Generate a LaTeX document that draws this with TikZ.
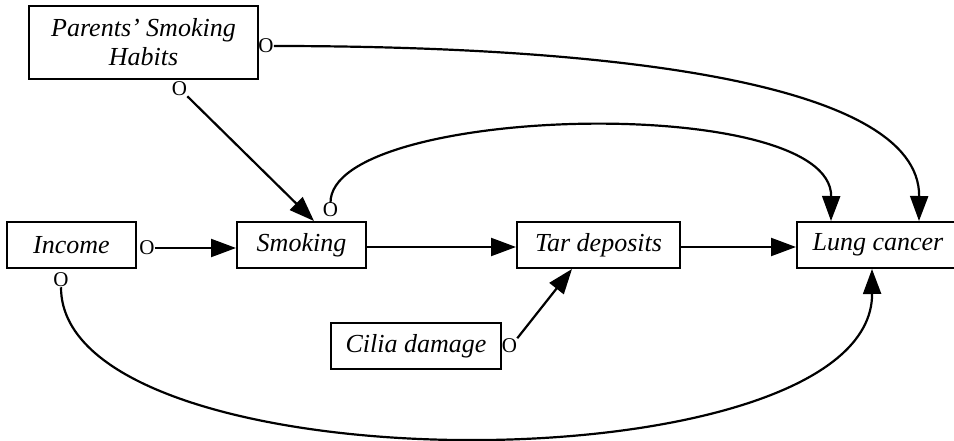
\documentclass[tikz,border=0pt]{standalone}
\usepackage{fontspec}
\setmainfont{Liberation Serif}
\usetikzlibrary{arrows.meta,calc}
\begin{document}
\begin{tikzpicture}[x=1pt,y=-1pt,
  varbox/.style={draw,line width=2pt,inner sep=0pt,minimum height=46pt,align=center,
    font=\fontsize{26}{29}\selectfont\itshape},
  omark/.style={inner sep=0pt,font=\fontsize{21}{21}\selectfont},
  conn/.style={line width=2.2pt,-{Triangle[length=25pt,width=18pt]}}]
\useasboundingbox (0,0) rectangle (954,441);
\node[varbox,minimum width=229pt,minimum height=73pt] (par) at (143.5,42.5) {Parents' Smoking\\Habits};
\node[varbox,minimum width=129pt] (inc) at (71.5,245) {Income};
\node[varbox,minimum width=129pt] (smk) at (301.5,245) {Smoking};
\node[varbox,minimum width=163pt] (tar) at (598.5,245) {Tar deposits};
\node[varbox,minimum width=162pt] (lung) at (878,245) {Lung cancer};
\node[varbox,minimum width=170pt] (cil) at (416,346) {Cilia damage};
\node[omark] (oPR) at (266,46) {O};
\node[omark] (oPB) at (179.5,89) {O};
\node[omark] (oSm) at (330.5,210) {O};
\node[omark] (oIR) at (147,248) {O};
\node[omark] (oIB) at (61,280) {O};
\node[omark] (oCil) at (509.5,345.5) {O};
\draw[conn] (oIR.east) -- (smk.west |- oIR.east);
\draw[conn] ($(smk.east)+(0,2)$) -- ($(tar.west)+(0,2)$);
\draw[conn] ($(tar.east)+(0,2)$) -- ($(lung.west)+(0,2)$);
\draw[conn] (oPB.south east) -- ($(smk.north west)+(78,0)$);
\draw[conn] (oCil.north east) -- ($(tar.south west)+(56,0)$);
\draw[conn] (oPR.east) .. controls (600,46) and (920,80) .. ($(lung.north west)+(123,0)$);
\draw[conn] (oSm.north) .. controls (330,105) and (832,92) .. ($(lung.north west)+(35,0)$);
\draw[conn] (oIB.south) .. controls (61,490) and (873,490) .. ($(lung.south west)+(76,0)$);
\end{tikzpicture}
\end{document}
